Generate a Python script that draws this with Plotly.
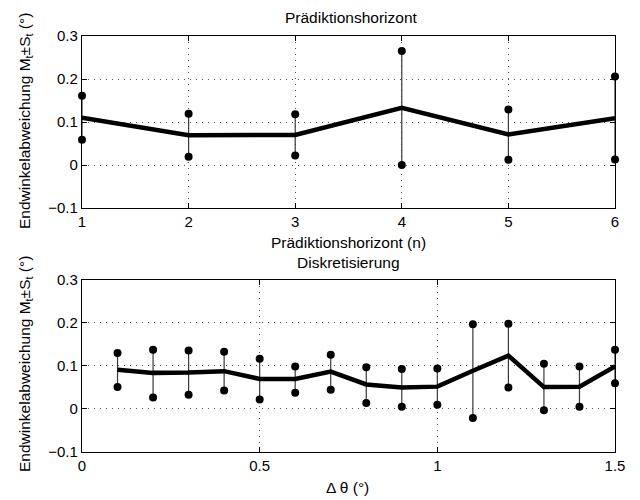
import plotly.graph_objects as go
from plotly.subplots import make_subplots

# Top: Prädiktionshorizont
n_vals = [1, 2, 3, 4, 5, 6]
n_mean = [0.110, 0.069, 0.070, 0.133, 0.071, 0.109]
n_upper = [0.161, 0.119, 0.118, 0.265, 0.129, 0.206]
n_lower = [0.059, 0.019, 0.022, 0.000, 0.012, 0.013]

# Bottom: Diskretisierung
d_vals = [0.1, 0.2, 0.3, 0.4, 0.5, 0.6, 0.7, 0.8, 0.9, 1.0, 1.1, 1.2, 1.3, 1.4, 1.5]
d_mean = [0.091, 0.084, 0.085, 0.088, 0.070, 0.070, 0.087, 0.057, 0.050, 0.052, 0.089, 0.124, 0.051, 0.052, 0.099]
d_upper = [0.130, 0.138, 0.136, 0.133, 0.117, 0.099, 0.126, 0.097, 0.093, 0.094, 0.197, 0.198, 0.105, 0.099, 0.138]
d_lower = [0.051, 0.027, 0.033, 0.043, 0.022, 0.038, 0.045, 0.014, 0.005, 0.010, -0.021, 0.050, -0.003, 0.005, 0.060]

y_ticks = [-0.1, 0, 0.1, 0.2, 0.3]
y_ticktext = ["\u22120.1", "0", "0.1", "0.2", "0.3"]
x1_ticks = [1, 2, 3, 4, 5, 6]
x2_ticks = [0, 0.5, 1, 1.5]
x2_ticktext = ["0", "0.5", "1", "1.5"]

FONT = "Liberation Sans, Arial, Helvetica, sans-serif"

fig = make_subplots(rows=2, cols=1)


def add_series(x, mean, up, lo, row):
    sx, sy = [], []
    for xi, u, l in zip(x, up, lo):
        sx += [xi, xi, None]
        sy += [l, u, None]
    fig.add_trace(go.Scatter(x=sx, y=sy, mode="lines",
                             line=dict(color="#3a3a3a", width=1.2),
                             showlegend=False, hoverinfo="skip"), row=row, col=1)
    fig.add_trace(go.Scatter(x=list(x) + list(x), y=list(up) + list(lo), mode="markers",
                             marker=dict(color="black", size=8),
                             showlegend=False, cliponaxis=False), row=row, col=1)
    fig.add_trace(go.Scatter(x=x, y=mean, mode="lines",
                             line=dict(color="black", width=4.5),
                             showlegend=False), row=row, col=1)


add_series(n_vals, n_mean, n_upper, n_lower, 1)
add_series(d_vals, d_mean, d_upper, d_lower, 2)

axis_common = dict(
    showline=True, linecolor="black", linewidth=1.2, mirror="ticks",
    ticks="inside", ticklen=5, tickcolor="black",
    showgrid=True, gridcolor="#555555", griddash="1px,5px", gridwidth=1,
    zeroline=False,
    tickfont=dict(family=FONT, size=15, color="black"),
)

fig.update_xaxes(**axis_common)
fig.update_yaxes(**axis_common)

fig.update_layout(
    xaxis=dict(domain=[0, 1], range=[1, 6], tickvals=x1_ticks),
    yaxis=dict(domain=[0.5865, 1], range=[-0.1, 0.3], tickvals=y_ticks, ticktext=y_ticktext),
    xaxis2=dict(domain=[0, 1], range=[0, 1.5], tickvals=x2_ticks, ticktext=x2_ticktext),
    yaxis2=dict(domain=[0, 0.4135], range=[-0.1, 0.3], tickvals=y_ticks, ticktext=y_ticktext),
    width=632, height=492,
    margin=dict(l=74, r=25, t=28, b=48),
    plot_bgcolor="white", paper_bgcolor="white",
    font=dict(family=FONT, size=15, color="black"),
)

ytitle = "Endwinkelabweichung M<sub>t</sub>\u00b1S<sub>t</sub> (\u00b0)"
annos = [
    dict(text="Prädiktionshorizont", x=351, y=17),
    dict(text="Prädiktionshorizont (n)", x=348, y=242),
    dict(text="Diskretisierung", x=348, y=262),
    dict(text="\u0394 \u03b8 (\u00b0)", x=347, y=488),
]
for a in annos:
    fig.add_annotation(text=a["text"], xref="paper", yref="paper",
                       x=(a["x"] - 82) / 533, y=(452 - a["y"]) / 416,
                       xanchor="center", yanchor="middle", showarrow=False,
                       font=dict(family=FONT, size=15.5, color="black"))
for yc in [121, 364]:
    fig.add_annotation(text=ytitle, xref="paper", yref="paper",
                       x=(25 - 82) / 533, y=(452 - yc) / 416,
                       xanchor="center", yanchor="middle", showarrow=False, textangle=-90,
                       font=dict(family=FONT, size=15.5, color="black"))

fig.write_html("out.html")
